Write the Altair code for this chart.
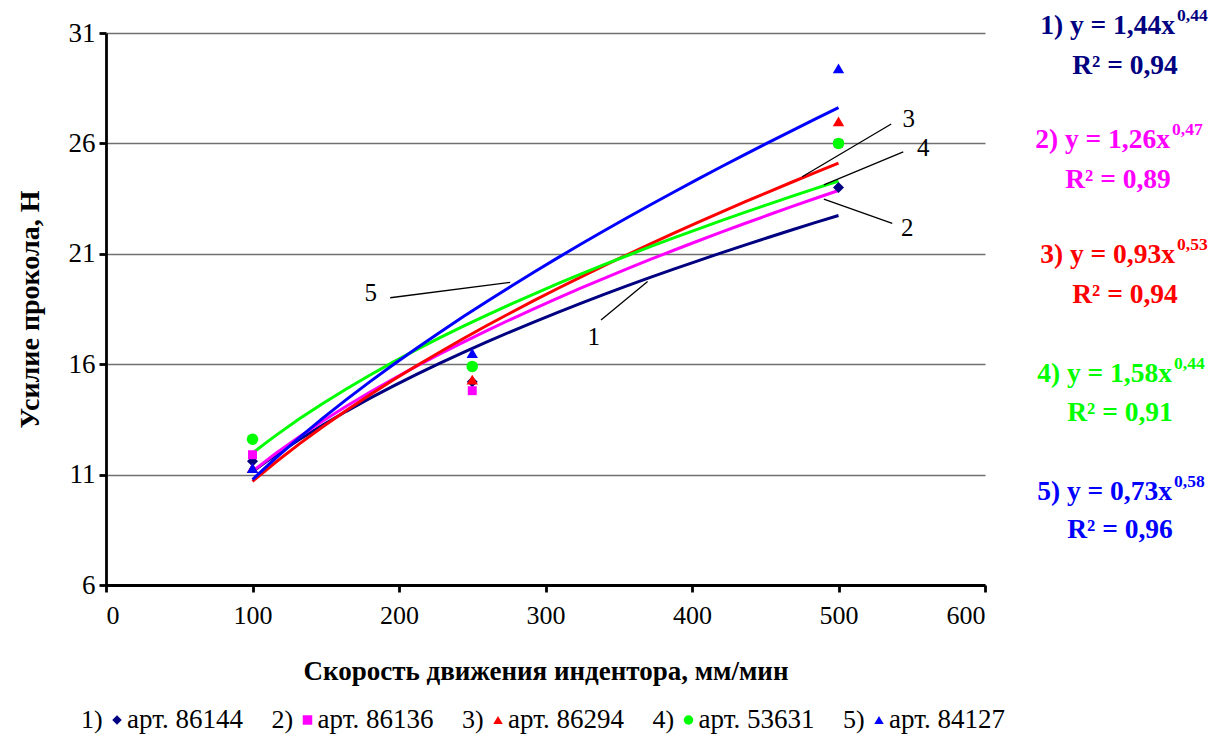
import altair as alt
import pandas as pd

# ---------------- data ----------------
series_ids = ["1)", "2)", "3)", "4)", "5)"]
articles = ["арт. 86144", "арт. 86136", "арт. 86294", "арт. 53631", "арт. 84127"]
colors = ["#000080", "#FF00FF", "#FF0000", "#00FF00", "#0000FF"]
shapes = ["diamond", "square", "triangle-up", "circle", "triangle-up"]
marker_sizes = [120, 80, 130, 132, 130]

speed = [100, 250, 500]
force_1 = [11.6, 15.2, 24.0]
force_2 = [11.9, 14.8, 26.0]
force_3 = [11.3, 15.3, 27.0]
force_4 = [12.6, 15.9, 26.0]
force_5 = [11.3, 16.5, 29.4]

eq_main = ["1) y = 1,44x", "2) y = 1,26x", "3) y = 0,93x", "4) y = 1,58x", "5) y = 0,73x"]
eq_exp = ["0,44", "0,47", "0,53", "0,44", "0,58"]
eq_r2 = ["R² = 0,94", "R² = 0,89", "R² = 0,94", "R² = 0,91", "R² = 0,96"]

curve_labels = ["1", "2", "3", "4", "5"]
label_x = [332.9, 546.9, 548.0, 557.9, 180.8]
label_y = [17.25, 22.15, 27.1, 25.78, 19.21]
leader_x = [337.9, 536.7, 536.0, 544.2, 194.0]
leader_y = [18.0, 22.38, 26.88, 25.62, 19.01]
leader_x2 = [369.7, 490.0, 475.2, 490.0, 275.9]
leader_y2 = [19.74, 23.48, 24.49, 24.12, 19.71]

x_title = "Скорость движения индентора, мм/мин"
y_title = "Усилие прокола, Н"

# ---------------- tables ----------------
forces = [force_1, force_2, force_3, force_4, force_5]
rows = []
for sid, fs in zip(series_ids, forces):
    for xv, yv in zip(speed, fs):
        rows.append({"series": sid, "x": xv, "y": yv})
df = pd.DataFrame(rows)

leaders = pd.DataFrame({"x": leader_x, "y": leader_y, "x2": leader_x2, "y2": leader_y2})
labels = pd.DataFrame({"x": label_x, "y": label_y, "t": curve_labels})

FONT = "Liberation Serif"
W, H = 879, 552

xscale = alt.Scale(domain=[0, 600], nice=False, zero=False)
yscale = alt.Scale(domain=[6, 31], nice=False, zero=False)
xaxis = alt.Axis(values=[0, 100, 200, 300, 400, 500, 600], grid=False, title=x_title,
                 titleFont=FONT, titleFontSize=27, titleFontWeight="bold", titleColor="black",
                 titleX=W / 2, titleY=86, titleBaseline="middle",
                 labelFont=FONT, labelFontSize=26, labelColor="black", labelPadding=10,
                 domainColor="black", domainWidth=2.8, tickColor="black", tickWidth=2.8, tickSize=7)
yaxis = alt.Axis(values=[6, 11, 16, 21, 26, 31], grid=True, gridColor="#707070", gridWidth=1.3,
                 title=y_title, titleFont=FONT, titleFontSize=28, titleFontWeight="bold",
                 titleColor="black", titleX=-76, titleY=H / 2, titleAngle=-90,
                 titleAlign="center", titleBaseline="middle",
                 labelFont=FONT, labelFontSize=27, labelColor="black", labelPadding=4,
                 domainColor="black", domainWidth=2.8, tickColor="black", tickWidth=2.8, tickSize=7)

X = alt.X("x:Q", scale=xscale, axis=xaxis)
Y = alt.Y("y:Q", scale=yscale, axis=yaxis)
color_enc = alt.Color("series:N", scale=alt.Scale(domain=series_ids, range=colors), legend=None)

base = alt.Chart(df)

lines = base.transform_regression(
    "x", "y", groupby=["series"], method="pow", extent=[100, 500]
).mark_line(strokeWidth=3, clip=False).encode(x=X, y=Y, color=color_enc, detail="series:N")

layers = [lines]
for i, sid in enumerate(series_ids):
    layers.append(base.transform_filter(alt.datum.series == sid).mark_point(
        filled=True, opacity=1, shape=shapes[i], size=marker_sizes[i], color=colors[i]
    ).encode(x=X, y=Y))

leader_layer = alt.Chart(leaders).mark_rule(color="black", strokeWidth=1.3).encode(
    x=X, y=Y, x2="x2:Q", y2="y2:Q")
label_layer = alt.Chart(labels).mark_text(font=FONT, fontSize=25, color="black").encode(
    x=X, y=Y, text="t:N")

layers += [leader_layer, label_layer]

# ---------------- equations (layout, pixels relative to plot area) ----------------
eq_main_end = [1069, 1064, 1069, 1066, 1066]
eq_main_base = [1, 115, 230, 349, 467]
eq_exp_base = [-12, 102, 217, 336, 454]
eq_r2_cx = [1019, 1012, 1019, 1014, 1014]
eq_r2_base = [41, 155, 270, 388, 505]

one = pd.DataFrame({"a": [0]})
for i in range(5):
    layers.append(alt.Chart(one).mark_text(
        text=eq_main[i], font=FONT, fontSize=27.5, fontWeight="bold", color=colors[i],
        align="right", baseline="alphabetic").encode(
        x=alt.value(eq_main_end[i]), y=alt.value(eq_main_base[i])))
    layers.append(alt.Chart(one).mark_text(
        text=eq_exp[i], font=FONT, fontSize=17.5, fontWeight="bold", color=colors[i],
        align="left", baseline="alphabetic").encode(
        x=alt.value(eq_main_end[i] + 2), y=alt.value(eq_exp_base[i])))
    layers.append(alt.Chart(one).mark_text(
        text=eq_r2[i], font=FONT, fontSize=27.5, fontWeight="bold", color=colors[i],
        align="center", baseline="alphabetic").encode(
        x=alt.value(eq_r2_cx[i]), y=alt.value(eq_r2_base[i])))

# ---------------- legend (layout, pixels relative to plot area) ----------------
leg_y = 687
for i in range(5):
    x0 = -25 + 190.5 * i
    layers.append(alt.Chart(one).mark_text(
        text=series_ids[i], font=FONT, fontSize=26, color="black",
        align="left", baseline="middle").encode(x=alt.value(x0), y=alt.value(leg_y)))
    layers.append(alt.Chart(one).mark_point(
        shape=shapes[i], filled=True, size=90, color=colors[i], opacity=1).encode(
        x=alt.value(x0 + 36), y=alt.value(leg_y)))
    layers.append(alt.Chart(one).mark_text(
        text=articles[i], font=FONT, fontSize=27, color="black",
        align="left", baseline="middle").encode(x=alt.value(x0 + 46), y=alt.value(leg_y)))

chart = alt.layer(*layers).properties(
    width=W, height=H,
    autosize=alt.AutoSizeParams(type="none"),
    padding={"left": 106, "top": 33, "right": 235, "bottom": 155},
    background="white",
).configure_view(stroke=None)

chart.save("out.html", embed_options={"renderer": "svg", "actions": False})
